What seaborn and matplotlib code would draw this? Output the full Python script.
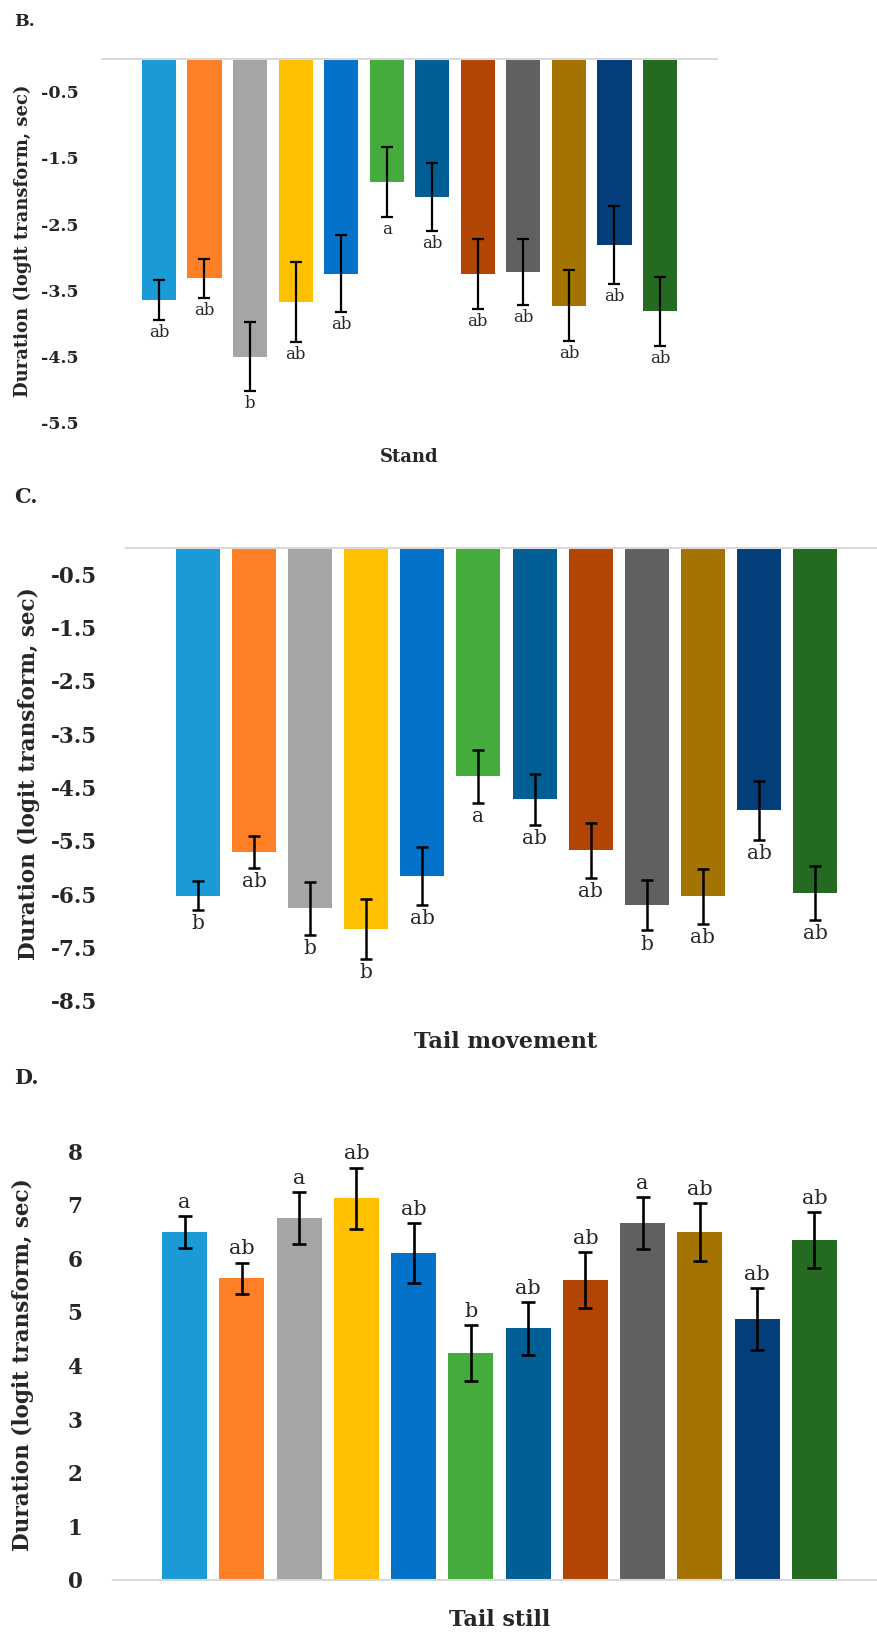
import matplotlib
matplotlib.use("Agg")
import matplotlib.pyplot as plt
import seaborn as sns
import pandas as pd

# ---------------- data ----------------
groups = ["G1", "G2", "G3", "G4", "G5", "G6", "G7", "G8", "G9", "G10", "G11", "G12"]
colors = ["#1A9BD7", "#FF7F27", "#A5A5A5", "#FFC000", "#0472C8", "#44AC3C",
          "#025F95", "#B24503", "#606060", "#A37400", "#043F7C", "#246A20"]

stand_mean = [-3.65, -3.32, -4.50, -3.68, -3.25, -1.86, -2.09, -3.25, -3.22, -3.73, -2.81, -3.82]
stand_err = [0.30, 0.30, 0.52, 0.60, 0.58, 0.53, 0.51, 0.53, 0.50, 0.54, 0.59, 0.52]
stand_letters = ["ab", "ab", "b", "ab", "ab", "a", "ab", "ab", "ab", "ab", "ab", "ab"]

move_mean = [-6.53, -5.71, -6.77, -7.16, -6.16, -4.29, -4.72, -5.68, -6.71, -6.54, -4.93, -6.48]
move_err = [0.27, 0.30, 0.50, 0.56, 0.55, 0.50, 0.48, 0.51, 0.47, 0.52, 0.56, 0.50]
move_letters = ["b", "ab", "b", "b", "ab", "a", "ab", "ab", "b", "ab", "ab", "ab"]

still_mean = [6.49, 5.63, 6.75, 7.12, 6.09, 4.23, 4.69, 5.60, 6.66, 6.49, 4.86, 6.34]
still_err = [0.29, 0.29, 0.48, 0.57, 0.56, 0.52, 0.49, 0.52, 0.48, 0.54, 0.58, 0.52]
still_letters = ["a", "ab", "a", "ab", "ab", "b", "ab", "ab", "a", "ab", "ab", "ab"]

stand_ticks = [-0.5, -1.5, -2.5, -3.5, -4.5, -5.5]
move_ticks = [-0.5, -1.5, -2.5, -3.5, -4.5, -5.5, -6.5, -7.5, -8.5]
still_ticks = [0, 1, 2, 3, 4, 5, 6, 7, 8]

ylab = "Duration (logit transform, sec)"

# ---------------- style ----------------
sns.set_style("white")
SERIF = ["DejaVu Serif"]
plt.rcParams["font.family"] = SERIF

W, H = 878, 1636
fig = plt.figure(figsize=(W / 100, H / 100), dpi=100)
fig.patch.set_facecolor("white")


def px_axes(left, right, top, bottom):
    return fig.add_axes([left / W, 1 - bottom / H, (right - left) / W, (bottom - top) / H])


def panel(ax, means, errs, letters, ylim, ticks, fmt, width, xlim, tick_fs, let_fs,
          cap, lw, pad, negative):
    df = pd.DataFrame({"group": groups, "value": means})
    sns.barplot(data=df, x="group", y="value", hue="group", order=groups,
                hue_order=groups, palette=colors, width=width, errorbar=None,
                legend=False, saturation=1, linewidth=0, ax=ax)
    bars = sorted(ax.patches, key=lambda p: p.get_x())
    xs = [p.get_x() + p.get_width() / 2 for p in bars]
    ax.errorbar(xs, means, yerr=errs, fmt="none", ecolor="black",
                elinewidth=lw, capsize=cap, capthick=lw, zorder=5)
    for x, m, e, t in zip(xs, means, errs, letters):
        if negative:
            ax.annotate(t, (x, m - e), xytext=(0, -3), textcoords="offset points",
                        ha="center", va="top", fontsize=let_fs, family=SERIF)
        else:
            ax.annotate(t, (x, m + e), xytext=(0, 3), textcoords="offset points",
                        ha="center", va="bottom", fontsize=let_fs, family=SERIF)
    ax.set_xlim(*xlim)
    ax.set_ylim(*ylim)
    ax.set_yticks(ticks)
    ax.set_yticklabels([fmt.format(t) for t in ticks], fontsize=tick_fs,
                       fontweight="bold", family=SERIF)
    ax.set_xticks([])
    ax.set_xlabel("")
    ax.set_ylabel("")
    ax.tick_params(axis="y", length=0, pad=pad)
    for s in ["left", "right", "top", "bottom"]:
        ax.spines[s].set_visible(False)
    line = "top" if negative else "bottom"
    ax.spines[line].set_visible(True)
    ax.spines[line].set_color("#D9D9D9")
    ax.spines[line].set_linewidth(1.5)
    ax.set_facecolor("none")


# Panel B - Stand
axB = px_axes(102, 717, 58.6, 422.7)
panel(axB, stand_mean, stand_err, stand_letters, (-5.5, 0), stand_ticks, "{:.1f}",
      0.75, (-1.25, 12.25), 12.5, 12, 4.0, 1.6, 17, True)

# Panel C - Tail movement
axC = px_axes(126, 887, 547.6, 1000.7)
panel(axC, move_mean, move_err, move_letters, (-8.5, 0), move_ticks, "{:.1f}",
      0.785, (-1.28, 12.28), 15.5, 14.5, 4.5, 1.8, 21, True)

# Panel D - Tail still
axD = px_axes(113, 886, 1151, 1580)
panel(axD, still_mean, still_err, still_letters, (0, 8), still_ticks, "{:d}",
      0.785, (-1.25, 12.25), 15.5, 15, 4.8, 1.9, 22, False)


def ftext(x, y, s, **kw):
    fig.text(x / W, 1 - y / H, s, family=SERIF, **kw)


# panel letters
ftext(14, 21, "B.", fontsize=12.5, fontweight="bold", ha="left", va="center")
ftext(14, 497, "C.", fontsize=15, fontweight="bold", ha="left", va="center")
ftext(14, 1078, "D.", fontsize=15, fontweight="bold", ha="left", va="center")

# y labels
ftext(23, 240.6, ylab, fontsize=13, fontweight="bold", rotation=90, ha="center", va="center")
ftext(29, 774, ylab, fontsize=15.5, fontweight="bold", rotation=90, ha="center", va="center")
ftext(23, 1365, ylab, fontsize=15.5, fontweight="bold", rotation=90, ha="center", va="center")

# x titles
ftext(409.5, 457, "Stand", fontsize=13, fontweight="bold", ha="center", va="center")
ftext(506, 1042, "Tail movement", fontsize=16, fontweight="bold", ha="center", va="center")
ftext(500, 1620, "Tail still", fontsize=16, fontweight="bold", ha="center", va="center")

fig.savefig("out.png", dpi=100, facecolor="white")
